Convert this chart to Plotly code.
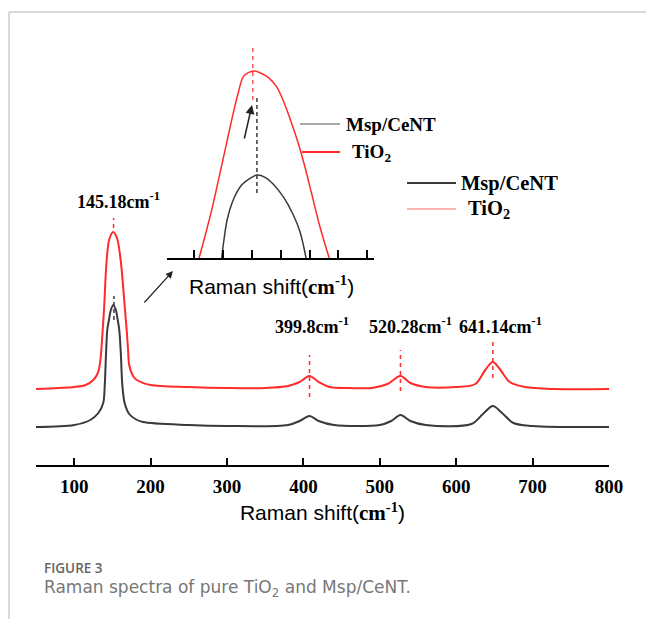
import plotly.graph_objects as go

# ---------------- data (intensity in arbitrary units) ----------------
tio2_x = [50, 80, 100, 115, 125, 131, 134, 136, 137.3, 139, 142.5, 146, 151, 156, 160.8, 166.5,
          168.7, 170.5, 172, 177, 182, 200,
          250, 300, 350, 380, 395, 408, 420, 435, 460, 490, 510, 527, 540, 560, 600, 625, 638,
          648, 658, 670, 690, 730, 800]
tio2_y = [76, 77, 78, 80, 85, 92, 103, 120, 135, 155, 205, 226, 233, 227, 205, 155,
          135, 115, 100, 89, 85, 80,
          78, 77, 77, 79, 83, 89, 83, 78, 77, 77, 81, 89, 82, 78, 78, 81, 95,
          103, 95, 83, 78, 76, 76]

msp_x = [50, 100, 121, 131.6, 138, 140, 141.7, 143.3, 145.5, 148, 151.2, 154.5, 157, 159, 161, 163,
         166, 172, 180, 190,
         250, 300, 380, 395, 408, 420, 440, 500, 515, 527, 540, 560, 620, 635, 648, 660, 675, 700, 800]
msp_y = [38, 40, 45, 52, 62, 80, 112, 135, 145, 155, 160, 155, 145, 135, 112, 80,
         62, 51, 46, 43,
         40, 39, 40, 44, 49, 44, 40, 40, 44, 50, 44, 40, 41, 51, 59, 52, 42, 39, 38]

# inset (zoomed view of the main peak)
inset_tio2_x = [121.8, 124.4, 126.7, 129.0, 131.3, 133.6, 135.3, 137.1, 138.8, 140.8, 142.8, 145.7,
                148.6, 151.5, 153.8, 156.1, 158.4, 160.7, 163.6, 166.8]
inset_tio2_y = [0, 28, 54.7, 84.7, 114.7, 144.7, 164.7, 181.3, 185.3, 187, 185.3, 180.7,
                171.3, 153, 134.7, 114.7, 91.3, 64.7, 31.3, 0]
inset_msp_x = [129.6, 130.4, 131.5, 133.6, 136.5, 139.4, 141.9, 144.6, 147.4, 150.9, 154.4, 156.7, 158.8]
inset_msp_y = [0, 18, 38, 58, 73, 79.7, 83, 80.7, 74, 61.3, 43, 26.3, 0]

tick_vals = [100, 200, 300, 400, 500, 600, 700, 800]
inset_ticks = [120, 130, 140, 150, 160, 170, 180]

peak_pos = [151.5, 408, 527, 648]
peak_labels = ["145.18cm<sup>-1</sup>", "399.8cm<sup>-1</sup>", "520.28cm<sup>-1</sup>", "641.14cm<sup>-1</sup>"]
label_x = [158.6, 411, 540.8, 658.6]
label_y = [265, 140, 140, 140]
dash_lo = [237, 68, 74, 87]
dash_hi = [247, 110, 115, 127]

RED = "#ff2a2a"
DARK = "#3a3a3a"
SERIF = "Liberation Serif"
SANS = "Liberation Sans"

W, H = 646, 619
def px(x):
    return x / W
def py(y):
    return 1 - y / H

fig = go.Figure()
fig.add_trace(go.Scatter(x=tio2_x, y=tio2_y, mode="lines", line=dict(color=RED, width=2, shape="spline", smoothing=0.9),
                         showlegend=False, xaxis="x", yaxis="y"))
fig.add_trace(go.Scatter(x=msp_x, y=msp_y, mode="lines", line=dict(color=DARK, width=2, shape="spline", smoothing=0.9),
                         showlegend=False, xaxis="x", yaxis="y"))
fig.add_trace(go.Scatter(x=inset_tio2_x, y=inset_tio2_y, mode="lines", line=dict(color=RED, width=1.5, shape="spline", smoothing=1),
                         showlegend=False, xaxis="x2", yaxis="y2"))
fig.add_trace(go.Scatter(x=inset_msp_x, y=inset_msp_y, mode="lines", line=dict(color=DARK, width=1.5, shape="spline", smoothing=1),
                         showlegend=False, xaxis="x2", yaxis="y2"))

shapes = []
# peak marker dashes
for xp, lo, hi in zip(peak_pos, dash_lo, dash_hi):
    shapes.append(dict(type="line", xref="x", yref="y", x0=xp, x1=xp, y0=lo, y1=hi,
                       line=dict(color=RED, width=1.5, dash="4px,4px")))
shapes.append(dict(type="line", xref="x", yref="y", x0=152, x1=152, y0=145, y1=169,
                   line=dict(color=DARK, width=1.5, dash="4px,3px")))
# inset dashes
shapes.append(dict(type="line", xref="x2", yref="y2", x0=140.4, x1=140.4, y0=158, y1=213,
                   line=dict(color=RED, width=1.2, dash="4px,4px")))
shapes.append(dict(type="line", xref="x2", yref="y2", x0=141.8, x1=141.8, y0=65, y1=161,
                   line=dict(color=DARK, width=1.5, dash="4px,3px")))
# legends (main)
shapes.append(dict(type="line", xref="paper", yref="paper", x0=px(407), x1=px(456), y0=py(183), y1=py(183),
                   line=dict(color=DARK, width=2)))
shapes.append(dict(type="line", xref="paper", yref="paper", x0=px(407), x1=px(456), y0=py(209), y1=py(209),
                   line=dict(color="#ff6a6a", width=1.2)))
# legends (inset)
shapes.append(dict(type="line", xref="paper", yref="paper", x0=px(300), x1=px(340), y0=py(124), y1=py(124),
                   line=dict(color="#555555", width=1)))
shapes.append(dict(type="line", xref="paper", yref="paper", x0=px(302), x1=px(340), y0=py(152), y1=py(152),
                   line=dict(color=RED, width=2)))
# page frame
shapes.append(dict(type="line", xref="paper", yref="paper", x0=px(9), x1=1, y0=py(12), y1=py(12),
                   line=dict(color="#cccccc", width=1.5)))
shapes.append(dict(type="line", xref="paper", yref="paper", x0=px(9), x1=px(9), y0=py(12), y1=0,
                   line=dict(color="#cccccc", width=1.5)))

ann = []
for lx, ly, t in zip(label_x, label_y, peak_labels):
    ann.append(dict(x=lx, y=ly, xref="x", yref="y", text="<b>" + t + "</b>", showarrow=False,
                    font=dict(family=SERIF, size=18, color="black"), xanchor="center", yanchor="middle"))
# legend texts
legfont = dict(family=SERIF, size=20.5, color="black")
ann.append(dict(x=px(459), y=py(183), xref="paper", yref="paper", text="<b>Msp/CeNT</b>", showarrow=False,
                font=legfont, xanchor="left", yanchor="middle"))
ann.append(dict(x=px(466), y=py(210), xref="paper", yref="paper", text="<b>TiO<sub>2</sub></b>", showarrow=False,
                font=legfont, xanchor="left", yanchor="middle"))
ann.append(dict(x=px(344), y=py(124), xref="paper", yref="paper", text="<b>Msp/CeNT</b>", showarrow=False,
                font=dict(family=SERIF, size=19, color="black"), xanchor="left", yanchor="middle"))
ann.append(dict(x=px(350), y=py(153), xref="paper", yref="paper", text="<b>TiO<sub>2</sub></b>", showarrow=False,
                font=dict(family=SERIF, size=19, color="black"), xanchor="left", yanchor="middle"))
# inset axis title
title_txt = "Raman shift(<span style='font-family:Liberation Serif'><b>cm<sup>-1</sup></b></span>)"
ann.append(dict(x=px(271), y=py(285), xref="paper", yref="paper", text=title_txt, showarrow=False,
                font=dict(family=SANS, size=21, color="black"), xanchor="center", yanchor="middle"))
# arrows
ann.append(dict(x=px(173), y=py(271), xref="paper", yref="paper", ax=-30, ay=33, text="", showarrow=True,
                arrowhead=2, arrowsize=1.2, arrowwidth=1.2, arrowcolor="#222222"))
ann.append(dict(x=px(252), y=py(105), xref="paper", yref="paper", ax=-8, ay=35, text="", showarrow=True,
                arrowhead=2, arrowsize=1.2, arrowwidth=1.5, arrowcolor="#222222"))
# caption
ann.append(dict(x=px(42), y=py(567.5), xref="paper", yref="paper", text="FIGURE 3", showarrow=False,
                font=dict(family="Open Sans", size=13.5, weight=600, color="#666666"), xanchor="left", yanchor="middle"))
ann.append(dict(x=px(42), y=py(588), xref="paper", yref="paper",
                text="Raman spectra of pure TiO<sub>2</sub> and Msp/CeNT.", showarrow=False,
                font=dict(family="DejaVu Sans", size=17, color="#777777"), xanchor="left", yanchor="middle"))

fig.update_layout(
    width=W, height=H, autosize=False,
    margin=dict(l=0, r=0, t=0, b=0, autoexpand=False),
    paper_bgcolor="white", plot_bgcolor="rgba(0,0,0,0)",
    showlegend=False,
    xaxis=dict(domain=[px(36), px(609)], range=[50, 800], tickvals=tick_vals,
               ticktext=[f"<b>{v}</b>" for v in tick_vals],
               tickfont=dict(family=SERIF, size=19, color="black"), ticklabelstandoff=3,
               ticks="inside", ticklen=7, tickwidth=2, tickcolor="black",
               showline=True, linecolor="black", linewidth=2, showgrid=False, zeroline=False,
               anchor="y", automargin=False,
               title=dict(text=title_txt, font=dict(family=SANS, size=21, color="black"), standoff=10)),
    yaxis=dict(domain=[py(465), py(30)], range=[0, 435], visible=False, anchor="x"),
    xaxis2=dict(domain=[px(167), px(374)], range=[110.7, 182.3], tickvals=inset_ticks, showticklabels=False,
                ticks="inside", ticklen=8, tickwidth=1.5, tickcolor="black",
                showline=True, linecolor="black", linewidth=2, showgrid=False, zeroline=False, anchor="y2"),
    yaxis2=dict(domain=[py(258), py(40)], range=[0, 218], visible=False, anchor="x2"),
    shapes=shapes, annotations=ann,
)
fig.write_html(
    "out.html",
    config={"displayModeBar": False, "responsive": False},
    post_script=("document.body.style.margin='0';document.body.style.overflow='hidden';"
                 "var gd=document.getElementById('{plot_id}');"
                 "Plotly.relayout(gd,{width:646,height:619});"),
)
